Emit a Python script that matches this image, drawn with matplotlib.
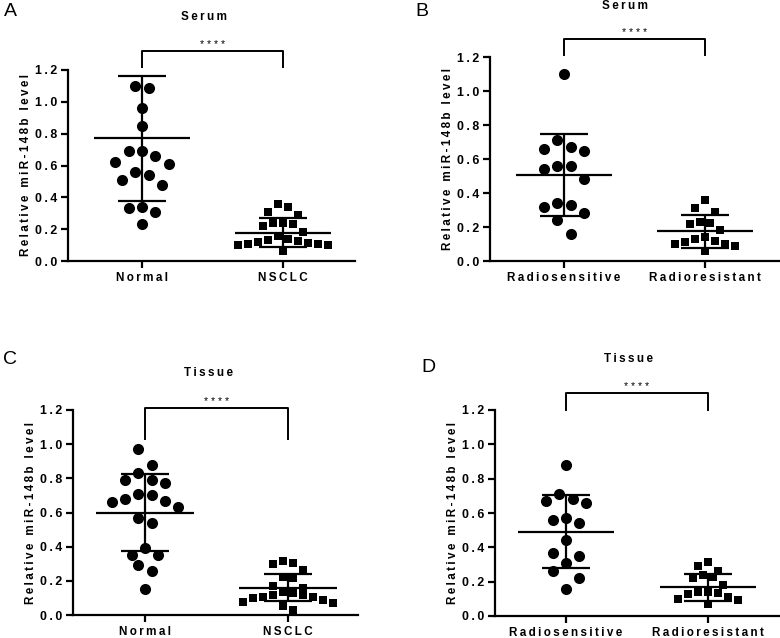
import numpy as np
import matplotlib
matplotlib.use('Agg')
import matplotlib.pyplot as plt

plt.rcParams['font.family'] = ['Liberation Sans', 'DejaVu Sans']

# ---------------- data ----------------
a_categories = ['Normal', 'NSCLC']
a_normal = [1.10, 1.09, 0.96, 0.85, 0.69, 0.69, 0.66, 0.61, 0.62, 0.54, 0.56, 0.51, 0.48, 0.33, 0.34, 0.31, 0.23]
a_nsclc = [0.36, 0.34, 0.31, 0.29, 0.24, 0.24, 0.22, 0.23, 0.18, 0.16, 0.14, 0.13, 0.12, 0.125, 0.105,
           0.10, 0.10, 0.105, 0.11, 0.06]
a_mean = [0.77, 0.178]
a_sd = [0.395, 0.09]

b_categories = ['Radiosensitive', 'Radioresistant']
b_sens = [1.10, 0.71, 0.67, 0.66, 0.65, 0.56, 0.56, 0.54, 0.48, 0.34, 0.33, 0.32, 0.28, 0.24, 0.16]
b_res = [0.36, 0.31, 0.29, 0.23, 0.22, 0.225, 0.18, 0.13, 0.12, 0.11, 0.10, 0.14, 0.09, 0.10, 0.06]
b_mean = [0.506, 0.176]
b_sd = [0.243, 0.097]

c_categories = ['Normal', 'NSCLC']
c_normal = [0.97, 0.88, 0.83, 0.79, 0.775, 0.79, 0.70, 0.71, 0.67, 0.66, 0.68, 0.63, 0.57, 0.54, 0.39,
            0.35, 0.35, 0.29, 0.26, 0.155]
c_nsclc = [0.316, 0.303, 0.297, 0.262, 0.224, 0.215, 0.172, 0.16, 0.137, 0.127, 0.117, 0.117, 0.107,
           0.107, 0.101, 0.09, 0.078, 0.068, 0.053, 0.029]
c_mean = [0.60, 0.16]
c_sd = [0.226, 0.08]

d_categories = ['Radiosensitive', 'Radioresistant']
d_sens = [0.88, 0.71, 0.67, 0.66, 0.68, 0.57, 0.54, 0.56, 0.44, 0.35, 0.365, 0.31, 0.26, 0.22, 0.155]
d_res = [0.316, 0.293, 0.264, 0.239, 0.22, 0.23, 0.18, 0.128, 0.142, 0.142, 0.132, 0.097, 0.093, 0.112, 0.068]
d_mean = [0.49, 0.167]
d_sd = [0.213, 0.08]

titles = ['Serum', 'Serum', 'Tissue', 'Tissue']
letters = ['A', 'B', 'C', 'D']
ylabel = 'Relative miR-148b level'
yticks = [0.0, 0.2, 0.4, 0.6, 0.8, 1.0, 1.2]
sig_label = '****'
# bracket (top, leg end) in data units
brackets = [(1.32, 1.22), (1.306, 1.21), (1.21, 1.03), (1.30, 1.20)]

# ---------------- layout ----------------
W, H = 780, 638
fig = plt.figure(figsize=(W / 100, H / 100), dpi=100)
TS = '\u2009'


def spaced(s):
    return TS.join(s)


FS = 8.4
FS_Y = 8.9


def row_swarm(vals, d, sx, sy, row_h=1.45, gap=1.2):
    """GraphPad-like layout: group close values into rows, spread each row symmetrically."""
    vals = np.asarray(vals, float)
    order = list(np.argsort(-vals, kind='stable'))
    offs = np.zeros(len(vals))
    rows = []
    cur = []
    for i in order:
        if cur and (vals[cur[0]] - vals[i]) * sy >= row_h * d:
            rows.append(cur)
            cur = []
        cur.append(i)
    if cur:
        rows.append(cur)
    for row in rows:
        n = len(row)
        slots = [(j - (n - 1) / 2) * d * gap for j in range(n)]
        slots_sorted = sorted(slots, key=lambda t: (abs(t), t))
        for k, (i, s) in enumerate(zip(row, slots_sorted)):
            offs[i] = s / sx
    return offs


def panel(rect_px, xlim, cats, groups, markers, sizes, means, sds, bracket,
          letter, letter_xy, title, title_xy):
    l, r, y0, ytop = rect_px
    ax = fig.add_axes([l / W, (H - y0) / H, (r - l) / W, (y0 - ytop) / H])
    ax.set_xlim(*xlim)
    ax.set_ylim(0, 1.2)
    sx = (r - l) / (xlim[1] - xlim[0])
    sy = (y0 - ytop) / 1.2
    for i, (vals, mk, ms) in enumerate(zip(groups, markers, sizes)):
        d_px = ms * 100 / 72
        offs = row_swarm(vals, d_px, sx, sy)
        ax.scatter(i + offs, vals, marker=mk, s=ms ** 2, c='black', linewidths=0,
                   clip_on=False, zorder=3)
        m, s = means[i], sds[i]
        ax.hlines(m, i - 0.34, i + 0.34, color='black', lw=1.6, zorder=4)
        ax.hlines([m - s, m + s], i - 0.17, i + 0.17, color='black', lw=1.6, zorder=4)
        ax.vlines(i, m - s, m + s, color='black', lw=1.6, zorder=4)
    top, end = bracket
    ax.plot([0, 0, 1, 1], [end, top, top, end], color='black', lw=1.4, clip_on=False)
    ax.annotate(' '.join(sig_label), xy=(0.5, top), xytext=(0, 2.2), textcoords='offset points',
                ha='center', va='baseline', fontsize=7.5, annotation_clip=False)
    for sp in ['top', 'right']:
        ax.spines[sp].set_visible(False)
    for sp in ['left', 'bottom']:
        ax.spines[sp].set_linewidth(1.6)
    ax.set_yticks(yticks)
    ax.set_yticklabels([spaced(f'{v:.1f}') for v in yticks], fontsize=FS_Y, fontweight='bold')
    ax.set_xticks(range(len(cats)))
    ax.set_xticklabels([spaced(c) for c in cats], fontsize=FS, fontweight='bold')
    ax.tick_params(axis='both', direction='out', length=5, width=1.6, pad=3)
    ax.set_ylabel(spaced(ylabel), fontsize=FS, fontweight='bold')
    ax.yaxis.set_label_coords(-36 / (r - l), 0.5)
    fig.text(letter_xy[0] / W, 1 - letter_xy[1] / H, letter, fontsize=14, ha='left', va='top')
    fig.text(title_xy[0] / W, 1 - title_xy[1] / H, spaced(title), fontsize=FS, fontweight='bold',
             ha='center', va='center')
    return ax


panel((68, 355, 261, 70), (-0.525, 1.51), a_categories, [a_normal, a_nsclc], ['o', 's'], [8, 6],
      a_mean, a_sd, brackets[0], letters[0], (4, 3), titles[0], (204, 17))
panel((490, 779, 261, 57), (-0.525, 1.525), b_categories, [b_sens, b_res], ['o', 's'], [8, 6],
      b_mean, b_sd, brackets[1], letters[1], (415, 3), titles[1], (625, 6))
panel((73, 358, 615, 410), (-0.503, 1.49), c_categories, [c_normal, c_nsclc], ['o', 's'], [8, 6],
      c_mean, c_sd, brackets[2], letters[2], (3, 351), titles[2], (208, 373))
panel((495, 780, 616, 410), (-0.50, 1.507), d_categories, [d_sens, d_res], ['o', 's'], [8, 6],
      d_mean, d_sd, brackets[3], letters[3], (421, 359), titles[3], (628, 359))

fig.savefig('out.png', dpi=100)
